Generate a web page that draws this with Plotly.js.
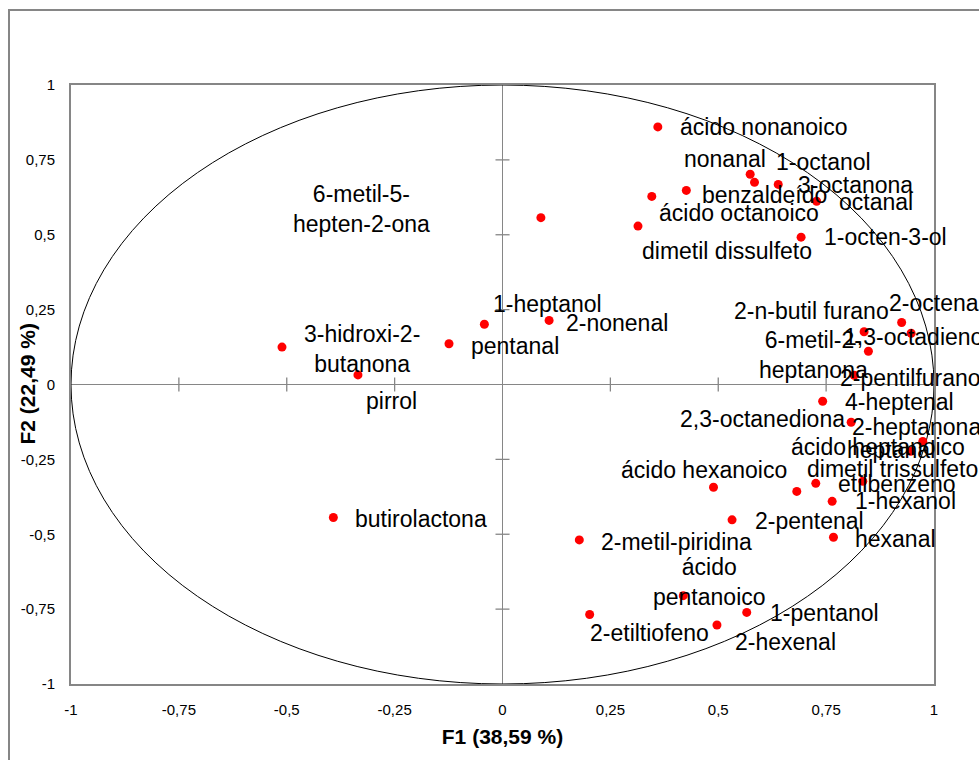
<!DOCTYPE html>
<html>
<head>
<meta charset="utf-8">
<script src="https://cdn.plot.ly/plotly-3.0.1.min.js"></script>
<style>
  html, body { margin: 0; padding: 0; background: #ffffff; }
  #chart { width: 979px; height: 760px; }
</style>
</head>
<body>
<div id="chart"></div>
<script>
// Volatile compounds projected on the first two factors (correlation circle)
const compounds = [
  'ácido nonanoico', 'nonanal', '1-octanol', '3-octanona', 'benzaldeído',
  'octanal', 'ácido octanoico', 'dimetil dissulfeto', '1-octen-3-ol',
  '6-metil-5-\nhepten-2-ona', '1-heptanol', '2-nonenal', 'pentanal',
  '3-hidroxi-2-\nbutanona', 'pirrol', 'butirolactona',
  '2-n-butil furano', '2-octenal', '1,3-octadieno', '6-metil-2-\nheptanona',
  '2-pentilfurano', '4-heptenal', '2,3-octanediona', '2-heptanona',
  'ácido heptanoico', 'heptanal', 'dimetil trissulfeto', 'etilbenzeno',
  '1-hexanol', 'ácido hexanoico', '2-pentenal', 'hexanal',
  '2-metil-piridina', 'ácido\npentanoico', '1-pentanol', '2-etiltiofeno',
  '2-hexenal'
];

const f1 = [
  0.360, 0.574, 0.584, 0.639, 0.426,
  0.728, 0.346, 0.314, 0.692,
  0.089, -0.042, 0.108, -0.124,
  -0.511, -0.335, -0.392,
  0.838, 0.925, 0.947, 0.848,
  0.815, 0.742, 0.808, 0.974,
  0.946, 0.682, 0.835, 0.726,
  0.764, 0.489, 0.532, 0.767,
  0.178, 0.419, 0.566, 0.202,
  0.497
];

const f2 = [
  0.860, 0.702, 0.675, 0.668, 0.648,
  0.612, 0.628, 0.529, 0.492,
  0.557, 0.201, 0.214, 0.136,
  0.125, 0.032, -0.444,
  0.176, 0.207, 0.171, 0.111,
  0.031, -0.056, -0.126, -0.190,
  -0.223, -0.357, -0.323, -0.330,
  -0.390, -0.343, -0.452, -0.510,
  -0.519, -0.705, -0.761, -0.768,
  -0.803
];

const tickValues = [-1, -0.75, -0.5, -0.25, 0, 0.25, 0.5, 0.75, 1];
const tickText = ['-1', '-0,75', '-0,5', '-0,25', '0', '0,25', '0,5', '0,75', '1'];

const xTitle = 'F1 (38,59 %)';
const yTitle = 'F2 (22,49 %)';

// Label offsets from each point, in screen pixels: [dx, dy (down), anchor]
const labelPlacement = [
  [20, 0, 'left'], [18, -15, 'right'], [19, -20, 'left'], [18, 1, 'left'], [14, 5, 'left'],
  [20, 1, 'left'], [5, 17, 'left'], [2, 25, 'left'], [21, 0, 'left'],
  [-179, -9, 'center'], [7, -20, 'left'], [15, 3, 'left'], [20, 2, 'left'],
  [80, 2, 'center'], [34, 26, 'center'], [20, 2, 'left'],
  [27, -21, 'right'], [-15, -20, 'left'], [-69, 4, 'left'], [-55, 4, 'center'],
  [-16, 3, 'left'], [20, 1, 'left'], [-4, -3, 'right'], [-73, -14, 'left'],
  [56, -4, 'right'], [48, -41, 'left'], [-58, -12, 'left'], [20, 1, 'left'],
  [21, 0, 'left'], [-95, -17, 'left'], [21, 1, 'left'], [20, 2, 'left'],
  [20, 2, 'left'], [26, -14, 'center'], [21, 1, 'left'], [-2, 18, 'left'],
  [16, 17, 'left']
];

const FONT = 'Liberation Sans, Arial, sans-serif';
const AXIS_GREY = '#868686';
const PLOT_W = 863, PLOT_H = 599;

// cross tick marks along the two axes that meet at the origin
const innerTicks = tickValues.filter(v => Math.abs(v) < 1 && v !== 0);

const traces = [
  {
    x: innerTicks, y: innerTicks.map(() => 0),
    type: 'scatter', mode: 'markers', hoverinfo: 'skip', showlegend: false,
    marker: { symbol: 'line-ns', size: 10, line: { color: AXIS_GREY, width: 1.3 } }
  },
  {
    x: innerTicks.map(() => 0), y: innerTicks,
    type: 'scatter', mode: 'markers', hoverinfo: 'skip', showlegend: false,
    marker: { symbol: 'line-ew', size: 10, line: { color: AXIS_GREY, width: 1.3 } }
  },
  {
    x: f1, y: f2, text: compounds.map(c => c.replace('\n', ' ')),
    type: 'scatter', mode: 'markers', hoverinfo: 'text', showlegend: false,
    marker: { color: '#ff0000', size: 9 }
  }
];

const annotations = compounds.map((name, i) => ({
  x: f1[i], y: f2[i], xref: 'x', yref: 'y',
  text: name.replace('\n', '<br>'),
  showarrow: false,
  xanchor: labelPlacement[i][2], yanchor: 'middle',
  xshift: labelPlacement[i][0], yshift: -labelPlacement[i][1],
  align: 'center',
  font: { family: FONT, size: 23, color: '#000000' }
}));

// vertical axis title, set close to the tick labels
annotations.push({
  xref: 'paper', yref: 'paper', x: -44 / PLOT_W, y: 0.5,
  text: yTitle, textangle: -90, showarrow: false,
  xanchor: 'center', yanchor: 'middle',
  font: { family: FONT, size: 21, weight: 700, color: '#000000' }
});

const axisCommon = {
  range: [-1, 1],
  tickvals: tickValues, ticktext: tickText,
  showgrid: false,
  zeroline: true, zerolinecolor: AXIS_GREY, zerolinewidth: 1.3,
  showline: true, mirror: true, linecolor: AXIS_GREY, linewidth: 2,
  ticks: '',
  tickfont: { family: FONT, size: 15, color: '#000000' },
  fixedrange: true
};

const layout = {
  width: 979, height: 760,
  margin: { l: 71, r: 45, t: 85, b: 76 },
  paper_bgcolor: '#ffffff', plot_bgcolor: '#ffffff',
  showlegend: false,
  xaxis: Object.assign({}, axisCommon, {
    ticklabelstandoff: 11,
    title: { text: xTitle, standoff: 12,
             font: { family: FONT, size: 21, weight: 700, color: '#000000' } }
  }),
  yaxis: Object.assign({}, axisCommon, {
    ticklabelstandoff: 11
  }),
  shapes: [
    { type: 'circle', xref: 'x', yref: 'y', x0: -1, x1: 1, y0: -1, y1: 1,
      line: { color: '#000000', width: 1 }, layer: 'between' },
    { type: 'rect', xref: 'paper', yref: 'paper',
      x0: -62 / PLOT_W, x1: 1.3, y0: -0.3, y1: 674 / PLOT_H,
      line: { color: AXIS_GREY, width: 2 }, layer: 'below' }
  ],
  annotations: annotations
};

Plotly.newPlot('chart', traces, layout, { displayModeBar: false, staticPlot: true });
</script>
</body>
</html>
